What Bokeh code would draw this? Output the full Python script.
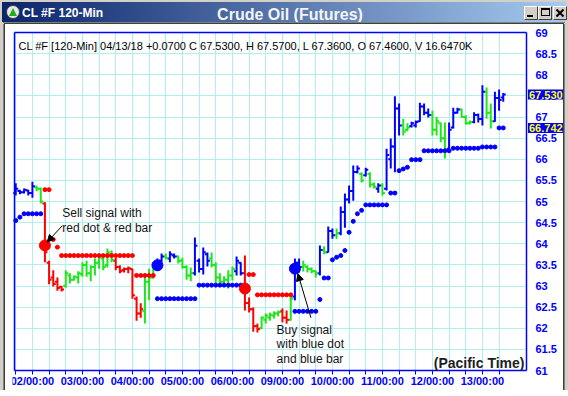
from bokeh.plotting import figure
from bokeh.layouts import column, row
from bokeh.models import (Range1d, FixedTicker, Label, Arrow, NormalHead, ColumnDataSource,
                          BoxAnnotation, Div)
from bokeh.embed import file_html
from bokeh.resources import INLINE

# ---------------- data (120-min bars, index 0..117) ----------------
day_labels = ["02/00:00", "03/00:00", "04/00:00", "05/00:00", "06/00:00",
              "09/00:00", "10/00:00", "11/00:00", "12/00:00", "13/00:00"]
day_bars = [4, 16, 28, 40, 52, 64, 76, 88, 100, 112]
x_ticks = [0, 4, 8, 12, 16, 20, 24, 28, 32, 36, 40, 44, 48, 52, 56, 60, 64, 68, 72, 76,
           80, 84, 88, 92, 96, 100, 104, 108, 112, 116]
y_ticks = [61, 61.5, 62, 62.5, 63, 63.5, 64, 64.5, 65, 65.5, 66, 66.5, 67, 67.5, 68, 68.5, 69]
y_tick_labels = ["61", "61.5", "62", "62.5", "63", "63.5", "64", "64.5", "65", "65.5",
                 "66", "66.5", "67", "67.5", "68", "68.5", "69"]

bar_color = ["b", "b", "b", "b", "b", "g", "g", "r", "r", "r",
             "r", "r", "g", "g", "g", "g", "g", "g", "g", "g",
             "g", "g", "g", "g", "r", "r", "r", "r", "r", "r",
             "r", "g", "g", "g", "b", "b", "g", "b", "b", "g",
             "g", "g", "g", "b", "b", "b", "b", "g", "g", "g",
             "g", "g", "g", "b", "b", "r", "r", "r", "r", "g",
             "g", "g", "g", "g", "r", "r", "g", "b", "b", "g",
             "g", "g", "g", "b", "g", "b", "b", "g", "b", "b",
             "b", "b", "b", "g", "b", "g", "g", "b", "g", "b",
             "b", "b", "b", "g", "g", "b", "b", "b", "b", "b",
             "g", "g", "g", "g", "b", "b", "b", "g", "g", "g",
             "b", "b", "b", "g", "g", "b", "b", "b"]

opens = [65.20, 65.25, 65.22, 65.26, 65.20, 65.34, 65.30, 64.95, 63.55, 63.20,
         63.10, 62.98, 63.00, 63.25, 63.15, 63.20, 63.28, 63.50, 63.30, 63.45,
         63.55, 63.65, 63.50, 63.75, 63.60, 63.45, 63.38, 63.40, 63.40, 62.70,
         62.35, 62.40, 63.10, 63.20, 63.45, 63.60, 63.70, 63.65, 63.72, 63.70,
         63.60, 63.45, 63.25, 63.30, 63.60, 63.40, 63.75, 63.65, 63.50, 63.20,
         63.10, 63.15, 63.25, 63.35, 63.55, 63.30, 62.60, 62.45, 62.05, 62.00,
         62.20, 62.25, 62.30, 62.35, 62.40, 62.25, 62.20, 62.75, 63.55, 63.45,
         63.45, 63.40, 63.35, 63.30, 63.85, 63.80, 64.30, 64.20, 64.25, 64.75,
         65.05, 65.25, 65.70, 65.65, 65.62, 65.65, 65.40, 65.30, 65.38, 65.30,
         66.00, 66.30, 67.20, 66.80, 66.70, 66.78, 66.80, 66.90, 67.25, 67.10,
         67.05, 66.70, 66.85, 66.50, 66.25, 66.75, 67.10, 67.18, 67.00, 66.85,
         66.88, 67.05, 66.95, 67.60, 67.10, 66.90, 67.45, 67.46]
highs = [65.43, 65.28, 65.31, 65.28, 65.47, 65.38, 65.33, 64.98, 63.60, 63.37,
         63.20, 63.00, 63.37, 63.30, 63.25, 63.35, 63.56, 63.60, 63.49, 63.65,
         63.77, 63.72, 63.89, 63.84, 63.67, 63.49, 63.44, 63.46, 63.41, 62.75,
         62.59, 63.25, 63.41, 63.56, 63.65, 63.77, 63.77, 63.82, 63.77, 63.72,
         63.67, 63.49, 63.44, 64.15, 63.65, 63.91, 63.79, 63.79, 63.56, 63.30,
         63.23, 63.37, 63.46, 63.70, 63.56, 63.72, 62.73, 62.49, 62.11, 62.28,
         62.35, 62.37, 62.40, 62.42, 62.47, 62.42, 62.78, 63.65, 63.65, 63.60,
         63.49, 63.44, 63.37, 63.96, 63.94, 64.41, 64.36, 64.36, 64.88, 65.19,
         65.38, 65.85, 65.85, 65.69, 65.80, 65.69, 65.45, 65.43, 65.43, 66.25,
         66.49, 67.49, 67.32, 66.96, 66.85, 66.89, 66.92, 67.34, 67.32, 67.20,
         67.15, 67.00, 66.87, 66.87, 66.87, 67.22, 67.22, 67.20, 67.04, 66.92,
         67.11, 67.08, 67.75, 67.70, 67.32, 67.60, 67.65, 67.57]
lows = [65.14, 65.17, 65.19, 65.14, 65.09, 65.24, 64.95, 63.56, 63.04, 62.99,
        62.89, 62.87, 62.96, 63.06, 63.13, 63.06, 63.22, 63.22, 63.11, 63.25,
        63.41, 63.37, 63.44, 63.56, 63.37, 63.30, 63.32, 63.30, 62.70, 62.18,
        62.25, 62.11, 62.66, 63.18, 63.37, 63.56, 63.63, 63.56, 63.65, 63.53,
        63.41, 63.15, 63.11, 63.25, 63.32, 63.27, 63.46, 63.44, 63.06, 63.01,
        63.04, 62.94, 63.13, 63.25, 63.25, 62.42, 62.37, 61.92, 61.90, 61.98,
        62.11, 62.18, 62.23, 62.28, 62.14, 62.11, 62.18, 62.66, 63.32, 63.34,
        63.32, 63.30, 63.20, 63.25, 63.75, 63.79, 64.12, 64.12, 64.20, 64.38,
        64.95, 65.02, 65.66, 65.45, 65.59, 65.33, 65.31, 65.21, 65.14, 65.26,
        65.78, 65.69, 66.56, 66.56, 66.66, 66.75, 66.75, 66.89, 67.04, 66.99,
        66.56, 66.56, 66.40, 66.02, 66.21, 66.73, 67.08, 66.99, 66.82, 66.82,
        66.85, 66.87, 66.80, 66.96, 66.73, 66.89, 67.15, 67.36]
closes = [65.30, 65.22, 65.28, 65.20, 65.36, 65.30, 65.00, 63.80, 63.15, 63.05,
          62.95, 62.92, 63.30, 63.15, 63.22, 63.30, 63.50, 63.30, 63.45, 63.55,
          63.70, 63.45, 63.80, 63.62, 63.45, 63.35, 63.40, 63.42, 62.78, 62.35,
          62.45, 63.10, 63.20, 63.45, 63.55, 63.70, 63.66, 63.75, 63.70, 63.60,
          63.45, 63.25, 63.30, 63.95, 63.40, 63.80, 63.60, 63.50, 63.20, 63.10,
          63.15, 63.25, 63.40, 63.60, 63.30, 62.60, 62.45, 62.05, 61.98, 62.25,
          62.30, 62.32, 62.35, 62.38, 62.25, 62.20, 62.70, 63.55, 63.45, 63.50,
          63.40, 63.35, 63.30, 63.85, 63.80, 64.30, 64.20, 64.25, 64.75, 65.05,
          65.25, 65.70, 65.78, 65.50, 65.75, 65.40, 65.35, 65.38, 65.20, 66.10,
          66.30, 67.20, 66.80, 66.65, 66.75, 66.85, 66.88, 67.25, 67.10, 67.05,
          66.70, 66.90, 66.50, 66.20, 66.70, 67.10, 67.18, 67.00, 66.85, 66.88,
          67.05, 66.95, 67.60, 67.10, 66.90, 67.45, 67.40, 67.53]

N = None
blue_stop = [64.55, 64.63, 64.71, 64.71, 64.71, 64.71, 64.71, N, N, N,
             N, N, N, N, N, N, N, N, N, N,
             N, N, N, N, N, N, N, N, N, N,
             N, N, N, N, 62.70, 62.70, 62.70, 62.70, 62.70, 62.70,
             62.70, 62.70, 62.70, 62.70, 63.02, 63.02, 63.02, 63.02, 63.02, 63.02,
             63.02, 63.02, 63.02, 63.02, 63.02, N, N, N, N, N,
             N, N, N, N, N, N, N, 62.40, 62.40, 62.40,
             62.40, 62.40, 62.40, 62.68, 63.19, 63.19, 63.62, 63.68, 63.72, 63.84,
             64.27, 64.53, 64.71, 64.79, 64.92, 64.92, 64.92, 64.92, 64.92, 64.92,
             65.20, 65.20, 65.73, 65.77, 65.81, 65.99, 65.99, 65.99, 66.20, 66.20,
             66.20, 66.20, 66.20, 66.20, 66.20, 66.26, 66.26, 66.26, 66.26, 66.26,
             66.26, 66.26, 66.29, 66.29, 66.29, 66.29, 66.742, 66.742]
red_stop = [N, N, N, N, N, N, N, 65.28, 65.28, 64.10,
            63.92, 63.72, 63.72, 63.72, 63.72, 63.72, 63.72, 63.72, 63.72, 63.72,
            63.72, 63.72, 63.72, 63.72, 63.72, 63.72, 63.72, 63.72, 63.72, 63.25,
            63.25, 63.25, 63.25, 63.25, N, N, N, N, N, N,
            N, N, N, N, N, N, N, N, N, N,
            N, N, N, N, N, N, 63.27, 63.27, 62.79, 62.79,
            62.79, 62.79, 62.79, 62.79, 62.79, 62.79, 62.79, N, N, N,
            N, N, N, N, N, N, N, N, N, N,
            N, N, N, N, N, N, N, N, N, N,
            N, N, N, N, N, N, N, N, N, N,
            N, N, N, N, N, N, N, N, N, N,
            N, N, N, N, N, N, N, N]

sell_bars = [7, 55]
sell_prices = [63.96, 62.94]
buy_bars = [34, 67]
buy_prices = [63.49, 63.41]

header_text = "CL #F [120-Min] 04/13/18  +0.0700 C 67.5300, H 67.5700, L 67.3600, O 67.4600, V 16.6470K"
sell_note = ["Sell signal with", "red dot & red bar"]
buy_note = ["Buy signal", "with blue dot", "and blue bar"]
window_title = "CL #F 120-Min"
chart_title = "Crude Oil (Futures)"
zone_note = "(Pacific Time)"
last_close = 67.530
last_stop = 66.742

# ---------------- styles ----------------
BLUE = "#0000FF"
GREEN = "#1EE61E"
RED = "#FF0000"
GRID = "#AEEFEF"
FONT = "Liberation Sans"
cmap = {"b": BLUE, "g": GREEN, "r": RED}

BAR_PX = 50.0 / 12.0          # pixels per bar
PPX = 42.25                   # pixels per price unit
FRAME_W = 551
X0 = -(15.25 - 12) / BAR_PX
X1 = X0 + FRAME_W / BAR_PX
Y_LO = 69 - (390 - 32) / PPX   # frame bottom at page y 390
Y_HI = 69 + (32 - 26) / PPX    # frame top at page y 26


def bx(page_x):
    return X0 + (page_x - 12) / BAR_PX


def py(page_y):
    return 69 - (page_y - 32) / PPX


# ---------------- window chrome (HTML) ----------------
def box(l, t, w, h, bg, extra=""):
    return ('<div style="position:absolute;left:%spx;top:%spx;width:%spx;height:%spx;'
            'background:%s;%s"></div>' % (l, t, w, h, bg, extra))


btn = ("box-sizing:border-box;border-top:1px solid #FFFFFF;border-left:1px solid #FFFFFF;"
       "border-right:1px solid #404040;border-bottom:1px solid #404040;")
title_html = (
    '<div style="position:relative;width:568px;height:24px;background:#D4D0C8;overflow:hidden;'
    'font-family:\'Liberation Sans\',Arial,sans-serif;">'
    + box(2, 2, 564, 20, "linear-gradient(to right,#0A246A,#A6CAF0)")
    + box(6, 5, 14, 14, "#E8E8E8", "box-sizing:border-box;border-radius:50%;border:1px solid #404040;")
    + '<div style="position:absolute;left:9px;top:8px;width:0;height:0;'
      'border-left:4px solid transparent;border-right:4px solid transparent;'
      'border-bottom:8px solid #22A822;"></div>'
    + '<div style="position:absolute;left:22px;top:5px;line-height:16px;font-size:12px;'
      'font-weight:bold;color:#FFFFFF;white-space:nowrap;">' + window_title + '</div>'
    + '<div style="position:absolute;left:0px;top:6px;width:580px;line-height:18px;font-size:16px;'
      'font-weight:bold;color:#F4F4F4;text-align:center;white-space:nowrap;">' + chart_title + '</div>'
    + box(524, 6, 14, 14, "#D4D0C8", btn)
    + box(527, 15, 6, 2, "#000000")
    + box(538, 6, 14, 14, "#D4D0C8", btn)
    + box(541, 8, 9, 8, "transparent", "box-sizing:border-box;border:1px solid #000;border-top:2px solid #000;")
    + box(553, 6, 14, 14, "#D4D0C8", btn)
    + box(555, 12, 10, 2, "#000000", "transform:rotate(45deg);")
    + box(555, 12, 10, 2, "#000000", "transform:rotate(-45deg);")
    + box(3, 22, 562, 1, "#808080")
    + box(4, 23, 560, 1, "#404040")
    + '</div>')
title_div = Div(text=title_html, width=568, height=24, margin=(0, 0, 0, 0))

MAIN_H = 366
left_div = Div(text='<div style="width:5px;height:%dpx;background:linear-gradient(to right,'
                    '#D4D0C8 0px,#D4D0C8 3px,#808080 3px,#808080 4px,#404040 4px,#404040 5px);">'
                    '</div>' % MAIN_H, width=5, height=MAIN_H, margin=(0, 0, 0, 0))
right_div = Div(text='<div style="width:5px;height:%dpx;background:linear-gradient(to right,'
                     '#404040 0px,#404040 1px,#808080 1px,#808080 2px,#D4D0C8 2px,#D4D0C8 5px);">'
                     '</div>' % MAIN_H, width=5, height=MAIN_H, margin=(0, 0, 0, 0))
bottom_div = Div(text='<div style="width:568px;height:6px;background:linear-gradient(to bottom,'
                      '#FFFFFF 0px,#FFFFFF 1px,#404040 1px,#404040 2px,#808080 2px,#808080 3px,'
                      '#D4D0C8 3px,#D4D0C8 6px);"></div>', width=568, height=6, margin=(0, 0, 0, 0))

# ---------------- main chart ----------------
p = figure(width=558, height=MAIN_H, x_range=Range1d(X0, X1), y_range=Range1d(Y_LO, Y_HI),
           output_backend="svg", toolbar_location=None, y_axis_location="right",
           min_border_left=7, min_border_right=0, min_border_top=2, min_border_bottom=0)
p.background_fill_color = "white"
p.border_fill_color = "white"
p.outline_line_color = None

xax = p.xaxis[0]
xax.fixed_location = 61
xax.ticker = FixedTicker(ticks=x_ticks)
ov = {tk: "" for tk in x_ticks}
for b, lab in zip(day_bars, day_labels):
    ov[b] = lab
xax.major_label_overrides = ov
xax.axis_line_color = None
xax.major_tick_out = 4
xax.major_tick_in = 0
xax.major_tick_line_color = BLUE
xax.minor_tick_line_color = None
xax.major_label_standoff = 0
xax.major_label_text_font = FONT
xax.major_label_text_font_style = "bold"
xax.major_label_text_font_size = "11px"
xax.major_label_text_color = BLUE

yax = p.yaxis[0]
yax.fixed_location = bx(526)
yax.ticker = FixedTicker(ticks=y_ticks)
yax.major_label_overrides = {tk: lab for tk, lab in zip(y_ticks, y_tick_labels)}
yax.axis_line_color = None
yax.major_tick_out = 0
yax.major_tick_in = 0
yax.major_tick_line_color = None
yax.minor_tick_line_color = None
yax.major_label_standoff = 9
yax.major_label_text_font = FONT
yax.major_label_text_font_style = "bold"
yax.major_label_text_font_size = "11px"
yax.major_label_text_color = BLUE

p.xgrid.grid_line_color = GRID
p.ygrid.grid_line_color = GRID

# white outside the plot box (covers grid lines)
for kw in (dict(right=bx(13.5)), dict(left=bx(526.5)),
           dict(bottom=69 + 0.5 / PPX), dict(top=61 - 0.5 / PPX)):
    p.add_layout(BoxAnnotation(fill_color="white", fill_alpha=1, line_alpha=0,
                               level="underlay", **kw))

# bars
n = len(opens)
xs = list(range(n))
TICK = 0.6
src = ColumnDataSource(dict(
    x=xs, xl=[x - TICK for x in xs], xr=[x + TICK for x in xs],
    o=opens, h=highs, l=lows, c=closes, col=[cmap[c] for c in bar_color]))
p.segment(x0="x", y0="l", x1="x", y1="h", line_color="col", line_width=2, source=src)
p.segment(x0="xl", y0="o", x1="x", y1="o", line_color="col", line_width=2, source=src)
p.segment(x0="x", y0="c", x1="xr", y1="c", line_color="col", line_width=2, source=src)

# stop dots
for stops, colr in ((blue_stop, BLUE), (red_stop, RED)):
    sx0, sx1, sy = [], [], []
    for i in range(n - 1):
        if stops[i] is not None and stops[i + 1] is not None and stops[i] == stops[i + 1]:
            sx0.append(i)
            sx1.append(i + 1)
            sy.append(stops[i])
    p.segment(x0=sx0, y0=sy, x1=sx1, y1=sy, line_color=colr, line_width=1.3)
    dx = [i for i in range(n) if stops[i] is not None]
    dy = [stops[i] for i in dx]
    p.scatter(dx, dy, size=4, fill_color=colr, line_color=colr)

# signal dots
p.scatter(sell_bars, sell_prices, size=11, fill_color=RED, line_color=RED)
p.scatter(buy_bars, buy_prices, size=11, fill_color=BLUE, line_color=BLUE)

# plot box
xl, xr = bx(14), bx(526)
p.segment(x0=[xl, xl, xl, xr], y0=[61, 69, 61, 61], x1=[xr, xr, xl, xr], y1=[61, 69, 69, 69],
          line_color=BLUE, line_width=1.5)

# annotations
p.add_layout(Label(x=bx(18), y=py(45), text=header_text, text_font=FONT, text_font_size="11px",
                   text_color="black", text_baseline="middle"))

for j, line in enumerate(sell_note):
    p.add_layout(Label(x=sell_bars[0] + 4.15, y=sell_prices[0] + 0.76 - 0.345 * j, text=line,
                       text_font=FONT, text_font_size="12px", text_color="#141414",
                       text_baseline="middle"))
for j, line in enumerate(buy_note):
    p.add_layout(Label(x=buy_bars[1] - 4.4, y=buy_prices[1] - 1.44 - 0.345 * j, text=line,
                       text_font=FONT, text_font_size="12px", text_color="#141414",
                       text_baseline="middle"))

p.add_layout(Arrow(end=NormalHead(size=7, fill_color="black", line_color="black"),
                   x_start=sell_bars[0] + 4.2, y_start=sell_prices[0] + 0.47,
                   x_end=sell_bars[0] + 0.55, y_end=sell_prices[0] + 0.08,
                   line_color="black", line_width=1))
p.add_layout(Arrow(end=NormalHead(size=7, fill_color="black", line_color="black"),
                   x_start=buy_bars[1] + 3.84, y_start=buy_prices[1] - 1.16,
                   x_end=buy_bars[1] + 0.72, y_end=buy_prices[1] - 0.12,
                   line_color="black", line_width=1))

p.add_layout(Label(x=bx(524), y=py(362), text=zone_note, text_font=FONT,
                   text_font_style="bold", text_font_size="14px", text_color="#1E1E1E",
                   text_baseline="middle", text_align="right"))

tag_kw = {}
if "padding" in Label.properties():
    tag_kw["padding"] = 1
for val in (last_close, last_stop):
    p.add_layout(Label(x=bx(527.5), y=val, text="%.3f" % val, text_font=FONT,
                       text_font_style="bold", text_font_size="11px", text_color="#FFFF00",
                       text_baseline="middle", background_fill_color=BLUE, **tag_kw))

layout = column(title_div, row(left_div, p, right_div), bottom_div)
open("out.html", "w").write(file_html(layout, INLINE))
